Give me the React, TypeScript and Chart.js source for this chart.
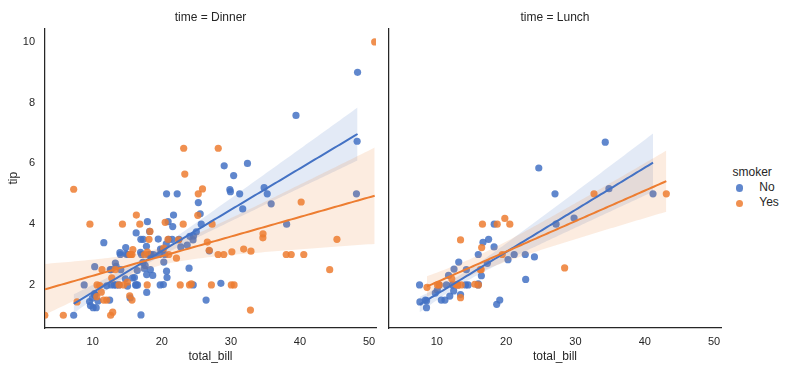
import React, { useEffect, useRef } from "react";
import { Chart, registerables } from "chart.js";

Chart.register(...registerables);

// ---------------- data (tips: total_bill / tip) ----------------
const timeLevels = ["Dinner", "Lunch"];
const smokerLevels = ["No", "Yes"];
const xTickValues = [10, 20, 30, 40, 50];
const yTickValues = [2, 4, 6, 8, 10];

const dinnerNoBill = [16.99, 10.34, 21.01, 23.68, 24.59, 25.29, 8.77, 26.88, 15.04, 14.78, 10.27, 35.26, 15.42, 18.43, 14.83, 21.58, 10.33, 16.29, 16.97, 20.65, 17.92, 20.29, 15.77, 39.42, 19.82, 17.81, 13.37, 12.69, 21.7, 19.65, 9.55, 18.35, 15.06, 20.69, 17.78, 24.06, 16.31, 16.93, 18.69, 31.27, 16.04, 17.46, 13.94, 9.68, 30.4, 18.29, 22.23, 32.4, 28.55, 18.04, 12.54, 10.29, 34.81, 9.94, 25.56, 19.49, 26.41, 48.27, 17.59, 20.08, 16.45, 20.23, 12.02, 17.07, 14.73, 10.51, 22.49, 22.75, 12.46, 20.92, 18.24, 14.0, 7.25, 38.07, 23.95, 25.71, 17.31, 29.93, 14.07, 13.13, 17.26, 24.55, 19.77, 29.85, 48.17, 25.0, 13.39, 16.49, 21.5, 12.66, 16.21, 13.81, 24.52, 20.76, 31.71, 20.69, 48.33, 20.45, 13.28, 11.61, 10.77, 10.07, 35.83, 29.03, 17.82, 18.78];
const dinnerNoTip = [1.01, 1.66, 3.5, 3.31, 3.61, 4.71, 2.0, 3.12, 1.96, 3.23, 1.71, 5.0, 1.57, 3.0, 3.02, 3.92, 1.67, 3.71, 3.5, 3.35, 4.08, 2.75, 2.23, 7.58, 3.18, 2.34, 2.0, 2.0, 4.3, 3.0, 1.45, 2.5, 3.0, 2.45, 3.27, 3.6, 2.0, 3.07, 2.31, 5.0, 2.24, 2.54, 3.06, 1.32, 5.6, 3.0, 5.0, 6.0, 2.05, 3.0, 2.5, 2.6, 5.2, 1.56, 4.34, 3.51, 1.5, 6.73, 2.64, 3.15, 2.47, 2.01, 1.97, 3.0, 2.2, 1.25, 3.5, 3.25, 1.5, 4.08, 3.76, 3.0, 1.0, 4.0, 2.55, 4.0, 3.5, 5.07, 2.5, 2.0, 2.74, 2.0, 2.0, 5.14, 5.0, 3.75, 2.61, 2.0, 3.5, 2.5, 2.0, 2.0, 3.48, 2.24, 4.5, 5.0, 9.0, 3.0, 2.72, 3.39, 1.47, 1.25, 4.67, 5.92, 1.75, 3.0];

const dinnerYesBill = [38.01, 11.24, 20.29, 13.81, 11.02, 18.29, 3.07, 15.01, 26.86, 25.28, 17.92, 28.97, 5.75, 16.32, 40.17, 27.28, 12.03, 21.01, 11.35, 15.38, 44.3, 22.42, 15.36, 20.49, 25.21, 14.31, 17.51, 10.59, 10.63, 50.81, 15.81, 7.25, 31.85, 16.82, 32.9, 17.89, 14.48, 9.6, 34.63, 34.65, 23.33, 45.35, 23.17, 40.55, 20.9, 30.46, 18.15, 23.1, 15.69, 26.59, 38.73, 24.27, 12.76, 30.06, 25.89, 13.27, 28.17, 12.9, 28.15, 11.59, 7.74, 30.14, 22.12, 24.01, 15.69, 15.53, 12.6, 32.83, 27.18, 22.67];
const dinnerYesTip = [3.0, 1.76, 3.21, 2.0, 1.98, 3.76, 1.0, 2.09, 3.14, 5.0, 3.08, 3.0, 1.0, 4.3, 4.73, 4.0, 1.5, 3.0, 2.5, 3.0, 2.5, 3.48, 1.64, 4.06, 4.29, 4.0, 3.0, 1.61, 2.0, 10.0, 3.16, 5.15, 3.18, 4.0, 3.11, 2.0, 2.0, 4.0, 3.55, 3.68, 5.65, 3.5, 6.5, 3.0, 3.5, 2.0, 3.5, 4.0, 1.5, 3.41, 3.0, 2.03, 2.23, 2.0, 5.16, 2.5, 6.5, 1.1, 3.0, 1.5, 1.44, 3.09, 2.88, 2.0, 3.0, 3.0, 1.0, 1.17, 2.0, 2.0];

const lunchNoBill = [27.2, 22.76, 17.29, 16.66, 10.07, 15.98, 34.83, 13.03, 18.28, 24.71, 21.16, 10.65, 12.43, 24.08, 11.69, 13.42, 14.26, 15.95, 12.48, 29.8, 8.52, 14.52, 11.38, 22.82, 19.08, 20.27, 11.17, 12.26, 18.26, 8.51, 10.33, 14.15, 13.16, 17.47, 34.3, 41.19, 27.05, 16.43, 8.35, 18.64, 11.87, 9.78, 7.51, 7.56, 15.98];
const lunchNoTip = [4.0, 3.0, 2.71, 3.4, 1.83, 2.03, 5.17, 2.0, 4.0, 5.85, 3.0, 1.5, 1.8, 2.92, 2.31, 1.68, 2.5, 2.0, 2.52, 4.2, 1.48, 2.0, 2.0, 2.18, 1.5, 2.83, 1.5, 2.0, 3.25, 1.25, 2.0, 2.0, 2.75, 3.5, 6.7, 5.0, 5.0, 2.3, 1.5, 1.36, 1.63, 1.73, 2.0, 1.44, 3.0];

const lunchYesBill = [19.44, 32.68, 16.0, 19.81, 28.44, 15.48, 16.58, 10.34, 43.11, 13.0, 13.51, 18.71, 12.74, 13.0, 16.4, 20.53, 16.47, 12.16, 13.42, 8.58, 13.42, 16.27, 10.09];
const lunchYesTip = [3.0, 5.0, 2.0, 4.19, 2.56, 2.02, 4.0, 2.0, 5.0, 2.0, 2.0, 4.0, 2.01, 2.0, 2.5, 4.0, 3.23, 2.2, 3.48, 1.92, 1.58, 2.5, 2.0];

// ---------------- styling ----------------
const TEXT = "#262626";
const FONT = "'Liberation Sans', Arial, 'DejaVu Sans', sans-serif";
const BLUE = [68, 114, 196];
const ORANGE = [237, 125, 49];
const rgba = (c: number[], a: number) => `rgba(${c[0]},${c[1]},${c[2]},${a})`;

const X_MIN = 3.1;
const X_MAX = 51.0;
const Y_MIN = 0.58;
const Y_MAX = 10.45;

type P = { x: number; y: number };

// OLS fit with a row-resampling-like (heteroscedasticity-robust) 95% band
function regress(xs: number[], ys: number[]) {
  const n = xs.length;
  const mx = xs.reduce((a, b) => a + b, 0) / n;
  const my = ys.reduce((a, b) => a + b, 0) / n;
  let sxx = 0;
  let sxy = 0;
  for (let i = 0; i < n; i++) {
    sxx += (xs[i] - mx) ** 2;
    sxy += (xs[i] - mx) * (ys[i] - my);
  }
  const b = sxy / sxx;
  const a = my - b * mx;
  let vA = 0, vB = 0, cAB = 0;
  for (let i = 0; i < n; i++) {
    const d = xs[i] - mx;
    const e2 = (ys[i] - (a + b * xs[i])) ** 2;
    vA += e2 / (n * n);
    vB += (d * d * e2) / (sxx * sxx);
    cAB += (d * e2) / (n * sxx);
  }
  const adj = n / (n - 2);
  const lo = Math.min(...xs);
  const hi = Math.max(...xs);
  const line: P[] = [], upper: P[] = [], lower: P[] = [];
  for (let k = 0; k < 100; k++) {
    const x = lo + ((hi - lo) * k) / 99;
    const d = x - mx;
    const yh = a + b * x;
    const se = Math.sqrt(adj * (vA + d * d * vB + 2 * d * cAB));
    line.push({ x, y: yh });
    upper.push({ x, y: yh + 1.96 * se });
    lower.push({ x, y: yh - 1.96 * se });
  }
  return { line, upper, lower };
}

const toPoints = (xs: number[], ys: number[]): P[] => xs.map((x, i) => ({ x, y: ys[i] }));

function buildDatasets(noX: number[], noY: number[], yesX: number[], yesY: number[]) {
  const fNo = regress(noX, noY);
  const fYes = regress(yesX, yesY);
  const scatter = (data: P[], c: number[], order: number) => ({
    type: "scatter",
    data,
    backgroundColor: rgba(c, 0.85),
    borderColor: rgba(c, 0.85),
    borderWidth: 0,
    pointRadius: 3.6,
    pointHoverRadius: 3.6,
    order,
    clip: 0,
  });
  const bandEdge = (data: P[], c: number[], fill: any, order: number) => ({
    type: "line",
    data,
    borderColor: "transparent",
    borderWidth: 0,
    pointRadius: 0,
    backgroundColor: rgba(c, 0.15),
    fill,
    order,
    clip: 0,
  });
  const line = (data: P[], c: number[], order: number) => ({
    type: "line",
    data,
    borderColor: rgba(c, 1),
    borderWidth: 2,
    pointRadius: 0,
    fill: false,
    order,
    clip: 0,
  });
  return [
    scatter(toPoints(noX, noY), BLUE, 8),
    bandEdge(fNo.upper, BLUE, false, 7),
    bandEdge(fNo.lower, BLUE, "-1", 6),
    scatter(toPoints(yesX, yesY), ORANGE, 5),
    bandEdge(fYes.upper, ORANGE, false, 4),
    bandEdge(fYes.lower, ORANGE, "-1", 3),
    line(fNo.line, BLUE, 2),
    line(fYes.line, ORANGE, 1),
  ];
}

function Panel(props: {
  left: number;
  width: number;
  yAxisWidth: number;
  title: string;
  showY: boolean;
  noX: number[];
  noY: number[];
  yesX: number[];
  yesY: number[];
}) {
  const ref = useRef<HTMLCanvasElement | null>(null);
  useEffect(() => {
    if (!ref.current) return;
    const chart = new Chart(ref.current, {
      type: "scatter",
      data: { datasets: buildDatasets(props.noX, props.noY, props.yesX, props.yesY) as any },
      options: {
        responsive: false,
        animation: false,
        events: [],
        layout: { padding: { left: 0, right: 4, top: 0, bottom: 0 } },
        plugins: {
          legend: { display: false },
          tooltip: { enabled: false },
          title: {
            display: true,
            text: props.title,
            fullSize: false,
            color: TEXT,
            font: { family: FONT, size: 12, weight: "normal" },
            padding: { top: 10.5, bottom: 3.4 },
          },
        },
        scales: {
          x: {
            type: "linear",
            min: X_MIN,
            max: X_MAX,
            afterBuildTicks: (s: any) => {
              s.ticks = xTickValues.map((v) => ({ value: v }));
            },
            afterFit: (s: any) => {
              s.height = 42;
              s.paddingLeft = 0;
              s.paddingRight = 0;
            },
            grid: { display: false, drawTicks: false },
            border: { display: true, color: TEXT, width: 1.25 },
            ticks: {
              color: TEXT,
              font: { family: FONT, size: 11 },
              padding: 7,
              autoSkip: false,
              maxRotation: 0,
            },
            title: {
              display: true,
              text: "total_bill",
              color: TEXT,
              font: { family: FONT, size: 12 },
              padding: { top: 0, bottom: 6 },
            },
          },
          y: {
            type: "linear",
            min: Y_MIN,
            max: Y_MAX,
            afterBuildTicks: (s: any) => {
              s.ticks = yTickValues.map((v) => ({ value: v }));
            },
            afterFit: (s: any) => {
              s.width = props.yAxisWidth;
              s.paddingTop = 0;
              s.paddingBottom = 0;
            },
            grid: { display: false, drawTicks: false },
            border: { display: true, color: TEXT, width: 1.25 },
            ticks: {
              display: props.showY,
              color: TEXT,
              font: { family: FONT, size: 11 },
              padding: 10,
            },
            title: {
              display: props.showY,
              text: "tip",
              color: TEXT,
              font: { family: FONT, size: 12 },
              padding: { top: 6, bottom: 0 },
            },
          },
        },
      } as any,
    });
    return () => chart.destroy();
  }, []);
  return (
    <canvas
      ref={ref}
      width={props.width}
      height={370}
      style={{ position: "absolute", left: props.left, top: 0, width: props.width, height: 370, display: "block" }}
    />
  );
}

export default function App() {
  return (
    <div
      style={{
        position: "fixed",
        left: 0,
        top: 0,
        width: 785,
        height: 370,
        background: "#ffffff",
        fontFamily: FONT,
        color: TEXT,
        overflow: "hidden",
      }}
    >
      <Panel
        left={0}
        width={380}
        yAxisWidth={45}
        title={`time = ${timeLevels[0]}`}
        showY={true}
        noX={dinnerNoBill}
        noY={dinnerNoTip}
        yesX={dinnerYesBill}
        yesY={dinnerYesTip}
      />
      <Panel
        left={384}
        width={341}
        yAxisWidth={5}
        title={`time = ${timeLevels[1]}`}
        showY={false}
        noX={lunchNoBill}
        noY={lunchNoTip}
        yesX={lunchYesBill}
        yesY={lunchYesTip}
      />
      <div style={{ position: "absolute", left: 732.5, top: 165, fontSize: 12, lineHeight: "15px", whiteSpace: "nowrap" }}>
        smoker
      </div>
      {smokerLevels.map((lvl, i) => (
        <React.Fragment key={lvl}>
          <div
            style={{
              position: "absolute",
              left: 739.3 - 3.6,
              top: 188 + i * 15.7 - 3.6,
              width: 7.2,
              height: 7.2,
              borderRadius: "50%",
              background: rgba(i === 0 ? BLUE : ORANGE, 0.85),
            }}
          />
          <div
            style={{
              position: "absolute",
              left: 759.3,
              top: 187 + i * 15.7 - 7.5,
              fontSize: 12,
              lineHeight: "15px",
              whiteSpace: "nowrap",
            }}
          >
            {lvl}
          </div>
        </React.Fragment>
      ))}
    </div>
  );
}
